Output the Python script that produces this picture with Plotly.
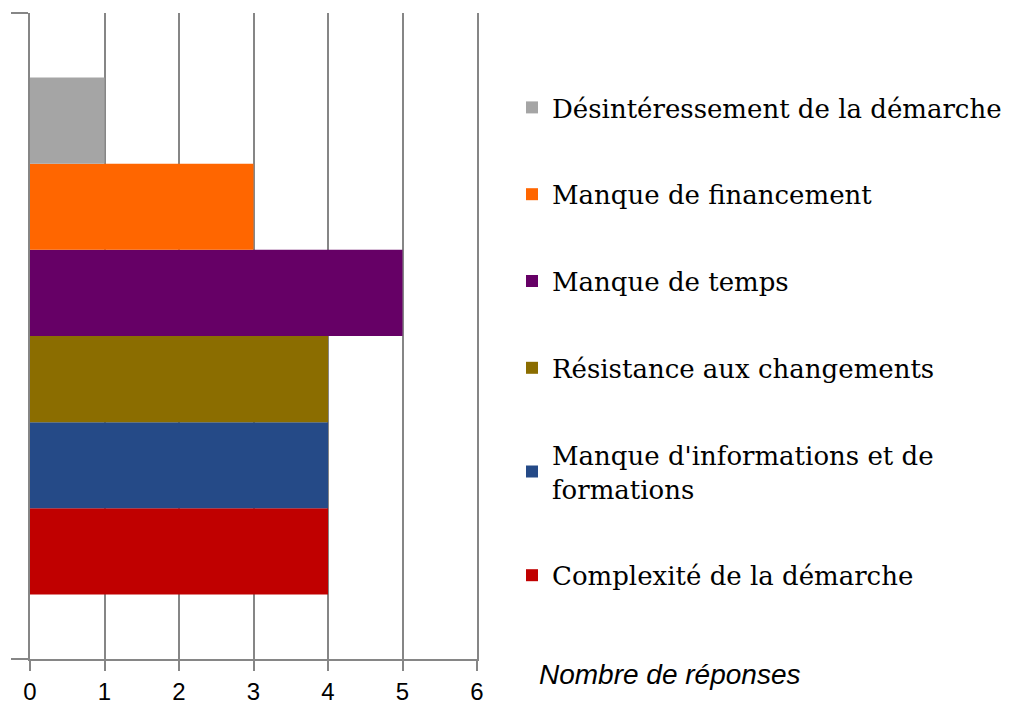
import plotly.graph_objects as go

# séries (du bas vers le haut)
categories = ["Complexité de la démarche",
              "Manque d'informations et de<br>formations",
              "Résistance aux changements",
              "Manque de temps",
              "Manque de financement",
              "Désintéressement de la démarche"]
values = [4, 4, 4, 5, 3, 1]
colors = ["#C00000", "#254A87", "#8B6D00", "#660066", "#FF6600", "#A5A5A5"]
xticks = [0, 1, 2, 3, 4, 5, 6]

W, H = 1010, 696  # la page ajoute une marge d'environ 7 px

fig = go.Figure()
for i in range(len(categories)):
    fig.add_trace(go.Bar(
        x=[values[i]], y=[""],
        orientation="h",
        name=categories[i],
        legendgroup=str(i),
        legendrank=10 * (len(categories) - i),  # ordre inversé dans la légende
        marker=dict(color=colors[i], line=dict(width=0)),
    ))

fig.update_layout(
    width=W, height=H,
    margin=dict(l=22, r=541, t=5, b=45, autoexpand=False),
    paper_bgcolor="white",
    plot_bgcolor="white",
    barmode="group",
    bargap=0.2,
    bargroupgap=0,
    showlegend=True,
    legend=dict(
        xref="container", yref="container",
        x=504 / W, y=1 - 76 / H,
        xanchor="left", yanchor="top",
        traceorder="grouped",
        tracegroupgap=50,
        maxheight=680,
        font=dict(family="DejaVu Serif", size=26, color="black"),
        bgcolor="rgba(0,0,0,0)",
    ),
    xaxis=dict(
        range=[0, 6],
        tickvals=xticks,
        ticks="outside", ticklen=10, tickwidth=2, tickcolor="#868686",
        showline=True, linecolor="#868686", linewidth=2,
        showgrid=True, gridcolor="#868686", gridwidth=2,
        zeroline=False,
        tickfont=dict(family="Liberation Sans", size=24, color="black"),
        fixedrange=True,
    ),
    yaxis=dict(
        range=[-0.5, 0.5],
        showticklabels=False,
        ticks="outside", tickson="boundaries", ticklen=17, tickwidth=2,
        tickcolor="#868686",
        showline=True, linecolor="#868686", linewidth=2,
        mirror=True,  # trait vertical à droite (x = 6)
        showgrid=False, zeroline=False,
        fixedrange=True,
    ),
    annotations=[dict(
        text="<i>Nombre de réponses</i>",
        xref="paper", yref="paper",
        x=(529 - 22) / 447, y=-15 / 646,
        xanchor="left", yanchor="middle",
        showarrow=False,
        font=dict(family="Liberation Sans", size=28, color="black"),
    )],
)

fig.write_html("out.html")
